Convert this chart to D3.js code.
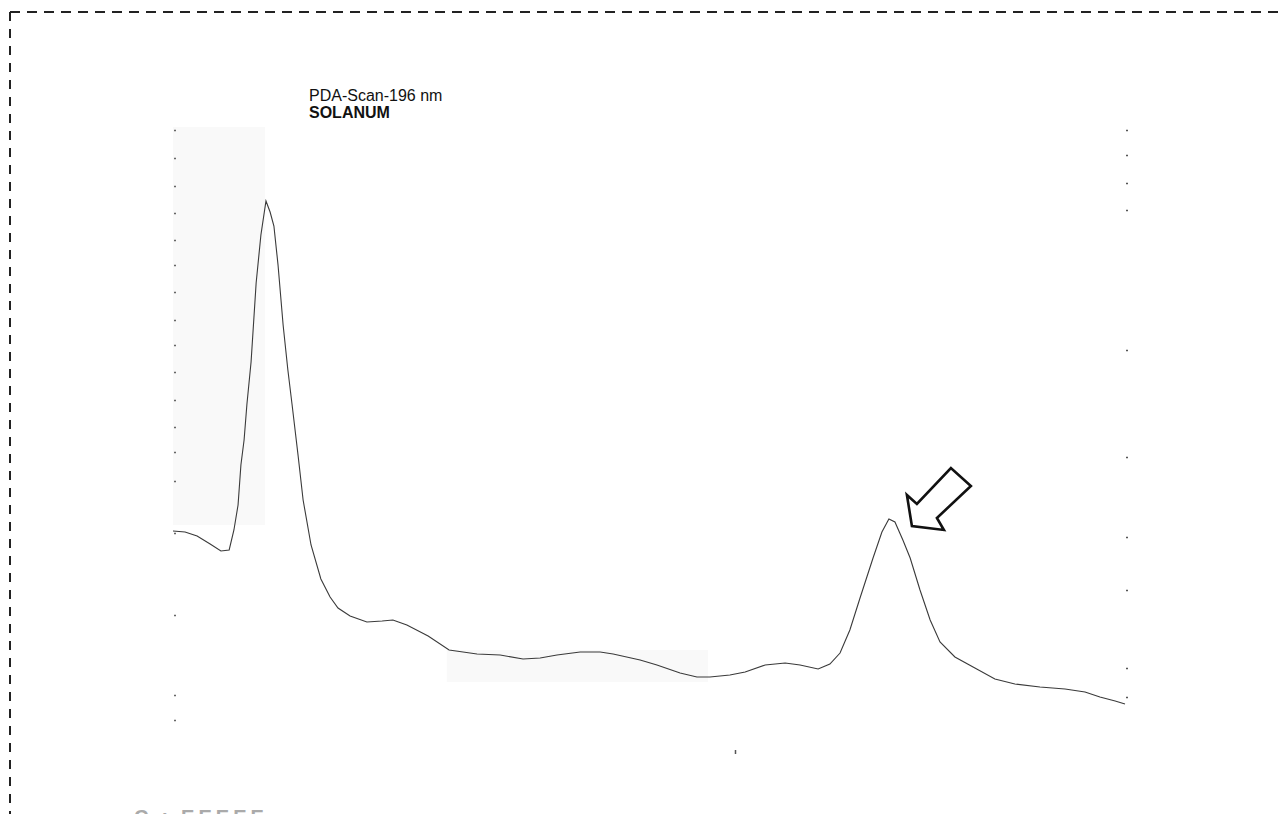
<!DOCTYPE html>
<html>
<head>
<meta charset="utf-8">
<script src="https://cdn.jsdelivr.net/npm/d3@7"></script>
<style>
  html, body { margin: 0; padding: 0; background: #fff; }
  svg { display: block; }
</style>
</head>
<body>
<svg id="chart" width="1280" height="814"></svg>
<script>
// ---- data (retention time in minutes, absorbance in AU) ----
const titleLines = ["PDA-Scan-196 nm", "SOLANUM"];
const time = [0.00,0.38,0.76,1.17,1.51,1.77,1.92,2.05,2.14,2.24,2.33,2.46,2.62,2.77,2.93,3.06,3.18,3.31,3.47,3.62,3.75,3.94,4.10,4.35,4.66,4.95,5.20,5.58,6.11,6.59,6.93,7.37,8.04,8.70,9.14,9.58,10.31,11.03,11.57,12.10,12.83,13.46,13.87,14.72,15.25,15.98,16.51,16.92,17.55,18.03,18.66,19.29,19.76,20.33,20.70,21.02,21.33,21.65,22.06,22.34,22.56,22.75,23.00,23.23,23.54,23.86,24.17,24.64,25.27,25.90,26.53,27.32,28.11,28.74,29.21,29.69,30.00];
const absorbance = [0.398,0.396,0.388,0.372,0.358,0.360,0.400,0.450,0.530,0.580,0.652,0.736,0.894,0.990,1.058,1.036,1.008,0.930,0.810,0.720,0.652,0.550,0.460,0.370,0.302,0.266,0.244,0.228,0.216,0.218,0.220,0.210,0.188,0.160,0.156,0.152,0.150,0.142,0.144,0.150,0.156,0.156,0.152,0.140,0.130,0.114,0.106,0.106,0.110,0.116,0.130,0.134,0.130,0.122,0.132,0.154,0.200,0.264,0.344,0.396,0.422,0.416,0.380,0.344,0.280,0.220,0.176,0.146,0.124,0.102,0.092,0.086,0.082,0.076,0.066,0.058,0.052];
const leftTicks = [1.2,1.144,1.088,1.034,0.98,0.93,0.876,0.82,0.77,0.716,0.66,0.606,0.556,0.498,0.394,0.23,0.07,0.02];
const rightTicks = [1.2,1.15,1.094,1.04,0.76,0.546,0.386,0.28,0.124,0.066];
const bottomTicks = [17.71];
const shadeBoxes = [ {x0:0, x1:2.9, y0:0.41, y1:1.206}, {x0:8.63, x1:16.86, y0:0.096, y1:0.16} ];
const arrowPeakIndex = 60;

// ---- scales ----
const svg = d3.select("#chart");
const x = d3.scaleLinear().domain([0, 30]).range([173, 1125]);
const y = d3.scaleLinear().domain([0, 1.2]).range([730, 130]);

// dashed frame (scan border)
svg.append("line").attr("x1", 10).attr("y1", 12).attr("x2", 1280).attr("y2", 12)
  .attr("stroke", "#222").attr("stroke-width", 2).attr("stroke-dasharray", "10,7");
svg.append("line").attr("x1", 10).attr("y1", 12).attr("x2", 10).attr("y2", 814)
  .attr("stroke", "#222").attr("stroke-width", 2).attr("stroke-dasharray", "9,8");

// faint scan shading
svg.selectAll("rect.shade").data(shadeBoxes).join("rect")
  .attr("class", "shade")
  .attr("x", d => x(d.x0)).attr("width", d => x(d.x1) - x(d.x0))
  .attr("y", d => y(d.y1)).attr("height", d => y(d.y0) - y(d.y1))
  .attr("fill", "#f9f9f9");

// axes as tick marks only
const leftAxis = d3.axisLeft(y).tickValues(leftTicks).tickSize(-2).tickFormat("");
svg.append("g").attr("transform", `translate(${x(0) + 1},0)`).call(leftAxis)
  .call(g => g.select(".domain").remove())
  .call(g => g.selectAll(".tick line").attr("stroke", "#666").attr("stroke-width", 1.4));
const rightAxis = d3.axisRight(y).tickValues(rightTicks).tickSize(-2).tickFormat("");
svg.append("g").attr("transform", `translate(${x(30) + 3},0)`).call(rightAxis)
  .call(g => g.select(".domain").remove())
  .call(g => g.selectAll(".tick line").attr("stroke", "#555").attr("stroke-width", 1.4));
const bottomAxis = d3.axisBottom(x).tickValues(bottomTicks).tickSize(4).tickFormat("");
svg.append("g").attr("transform", `translate(0,${y(-0.04)})`).call(bottomAxis)
  .call(g => g.select(".domain").remove())
  .call(g => g.selectAll(".tick line").attr("stroke", "#555").attr("stroke-width", 1.5));

// chromatogram trace
const pts = time.map((t, i) => [t, absorbance[i]]);
svg.append("path").datum(pts)
  .attr("d", d3.line().x(d => x(d[0])).y(d => y(d[1])).curve(d3.curveLinear))
  .attr("fill", "none").attr("stroke", "#3a3a3a").attr("stroke-width", 1.1);

// title
svg.selectAll("text.title").data(titleLines).join("text")
  .attr("class", "title")
  .attr("x", 309).attr("y", (d, i) => 101 + i * 17)
  .attr("font-family", "Liberation Sans, Arial, sans-serif")
  .attr("font-size", 16)
  .attr("font-weight", (d, i) => i === 1 ? "bold" : "normal")
  .attr("fill", "#111")
  .text(d => d);

// hollow arrow pointing at second peak
const px = x(time[arrowPeakIndex]), py = y(absorbance[arrowPeakIndex]);
const arrowShape = [[23,7],[18,-24],[28,-15],[62,-51],[82,-33],[48,-1],[55,11]];
svg.append("polygon")
  .attr("points", arrowShape.map(p => [px + p[0], py + p[1]].join(",")).join(" "))
  .attr("fill", "#fff").attr("stroke", "#111").attr("stroke-width", 2.6)
  .attr("stroke-linejoin", "miter");

// cut-off text at bottom edge of scan
svg.append("text").attr("x", 134).attr("y", 824)
  .attr("font-family", "Liberation Sans, Arial, sans-serif").attr("font-size", 20)
  .attr("font-weight", "bold").attr("letter-spacing", 4).attr("fill", "#aaa").text("C  ı EEEEE");
</script>
</body>
</html>
